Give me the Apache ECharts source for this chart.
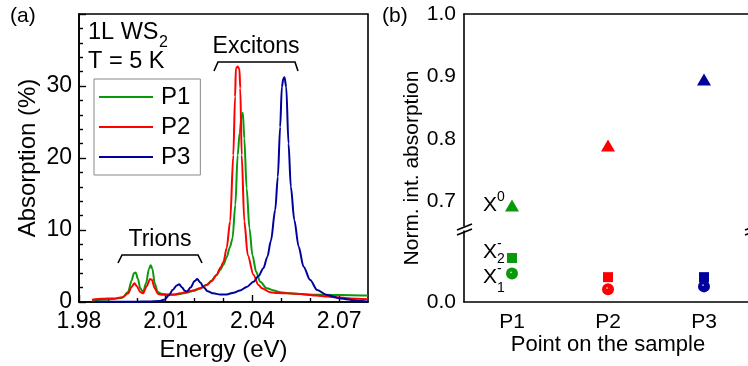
<!DOCTYPE html>
<html>
<head>
<meta charset="utf-8">
<script src="https://cdn.jsdelivr.net/npm/echarts@6/dist/echarts.min.js"></script>
<style>
    html, body { margin: 0; padding: 0; background: #fff; }
    #chart { width: 748px; height: 366px; }
</style>
</head>
<body>
<div id="chart"></div>
<script>
    const FONT = '"Liberation Sans", Arial, sans-serif';
    const GREEN = '#0a990a', RED = '#ff0000', BLUE = '#00009c';

    // spectra, [energy (eV), absorption (%)]
    const p1Spectrum = [[1.9845,0.2],[1.988,0.3],[1.992,0.4],[1.995,0.6],[1.997,1.4],[1.9982,3.0],[1.999,4.0],[1.9996,4.1],[2.0004,3.2],[2.0012,1.9],[2.0022,1.4],[2.0032,2.6],[2.0042,4.6],[2.0048,5.1],[2.0054,4.6],[2.0062,2.6],[2.0072,1.4],[2.0085,1.15],[2.011,1.0],[2.0126,1.0],[2.015,1.1],[2.0172,1.3],[2.0195,1.55],[2.0218,1.85],[2.0242,2.4],[2.0259,3.0],[2.0275,3.7],[2.0288,4.4],[2.03,5.2],[2.0311,6.2],[2.0322,7.6],[2.0331,8.8],[2.0341,13.5],[2.0349,20.4],[2.0356,23.5],[2.0362,25.6],[2.0367,26.3],[2.0372,22.7],[2.038,15.8],[2.039,10.2],[2.04,6.5],[2.0413,4.2],[2.0427,2.8],[2.045,1.9],[2.0475,1.6],[2.0496,1.35],[2.053,1.2],[2.057,1.1],[2.062,1.0],[2.068,0.98],[2.074,0.95],[2.08,0.9]];
    const p2Spectrum = [[1.9845,0.3],[1.988,0.45],[1.992,0.5],[1.995,0.65],[1.997,1.2],[1.9982,2.1],[1.9992,2.6],[2.0,2.2],[2.0012,1.4],[2.0022,1.2],[2.0034,2.2],[2.0046,3.2],[2.0052,3.1],[2.0062,1.9],[2.0074,1.1],[2.009,1.0],[2.0126,1.05],[2.015,1.2],[2.0172,1.4],[2.0195,1.6],[2.0218,1.9],[2.0242,2.36],[2.0259,2.9],[2.0276,3.75],[2.029,4.8],[2.03,5.6],[2.0311,7.5],[2.0323,11.2],[2.0334,20.4],[2.034,28.5],[2.0343,32.5],[2.0349,32.7],[2.0355,32.4],[2.0358,29.7],[2.0363,20.4],[2.0372,11.2],[2.0384,6.5],[2.0404,3.75],[2.0421,2.36],[2.0433,1.9],[2.0461,1.35],[2.049,1.25],[2.052,1.2],[2.055,1.15],[2.058,1.05],[2.062,0.9],[2.066,0.75],[2.069,0.65],[2.074,0.5],[2.08,0.38]];
    const p3Spectrum = [[1.9855,0.05],[1.99,0.05],[1.995,0.05],[2.0,0.05],[2.004,0.08],[2.008,0.15],[2.0097,0.35],[2.011,0.9],[2.0125,1.7],[2.0138,2.3],[2.0147,2.45],[2.0157,2.0],[2.0166,1.55],[2.0174,1.45],[2.0186,2.0],[2.02,2.9],[2.0209,3.2],[2.022,2.7],[2.0232,2.0],[2.0245,1.5],[2.0265,1.2],[2.0288,1.05],[2.0311,1.05],[2.0335,1.3],[2.0357,1.6],[2.038,2.1],[2.0404,2.8],[2.0421,3.6],[2.0438,4.7],[2.0452,6.3],[2.0464,8.5],[2.0479,12.8],[2.0488,17.4],[2.0496,24.3],[2.0502,29.9],[2.0507,31.0],[2.0511,31.2],[2.0517,29.9],[2.0525,22],[2.0533,16],[2.0545,11.4],[2.056,7.7],[2.0577,4.9],[2.06,3.06],[2.0624,1.67],[2.0658,0.97],[2.0705,0.5],[2.0763,0.18],[2.08,0.05]];

    const energyTicks = [1.98, 2.01, 2.04, 2.07];
    const energyMinorTicks = [1.99, 2.00, 2.02, 2.03, 2.05, 2.06];

    // panel (b)
    const points = ['P1', 'P2', 'P3'];
    const pointColors = [GREEN, RED, BLUE];
    const x0Values = [0.693, 0.789, 0.895];
    const x2Values = [0.062, 0.035, 0.035];
    const x1Values = [0.040, 0.018, 0.022];
    const upperTicks = [0.7, 0.8, 0.9, 1.0];
    const upperMinorTicks = [0.75, 0.85, 0.95];

    const lineStyle = { color: '#000', width: 1.6 };
    const tickStyle = { color: '#000', width: 1.4 };
    const noSplit = { show: false };

    function ball(c) {
        return {
            type: 'radial', x: 0.42, y: 0.4, r: 0.6,
            colorStops: [{ offset: 0, color: '#ffffff' }, { offset: 0.18, color: c }, { offset: 1, color: c }]
        };
    }

    function txt(x, y, text, size, align) {
        return {
            type: 'text', x: x, y: y, silent: true,
            style: { text: text, fontSize: size, fontFamily: FONT, fill: '#000', align: align || 'left', verticalAlign: 'middle' }
        };
    }

    function seg(x1, y1, x2, y2) {
        return { type: 'line', silent: true, shape: { x1, y1, x2, y2 }, style: { stroke: '#000', lineWidth: 1.6 } };
    }

    const chart = echarts.init(document.getElementById('chart'));

    const option = {
        animation: false,
        backgroundColor: '#fff',
        textStyle: { fontFamily: FONT, color: '#000' },
        grid: [
            { left: 79, top: 14, width: 289, height: 288, show: true, borderColor: '#000', borderWidth: 1.6, outerBoundsMode: 'none' },
            { left: 464, top: 14, width: 288, height: 212, outerBoundsMode: 'none' },
            { left: 464, top: 231, width: 288, height: 71, outerBoundsMode: 'none' }
        ],
        legend: {
            data: ['P1', 'P2', 'P3'],
            orient: 'vertical',
            left: 94, top: 79,
            padding: [6, 10, 6, 4],
            itemGap: 6, itemWidth: 54, itemHeight: 18,
            itemStyle: { opacity: 0 },
            borderColor: '#888', borderWidth: 1,
            textStyle: { fontSize: 24, fontFamily: FONT, color: '#000', padding: [0, 0, 0, 3] }
        },
        xAxis: [
            {
                gridIndex: 0, type: 'value', min: 1.98, max: 2.08, position: 'bottom',
                name: 'Energy (eV)', nameLocation: 'middle', nameGap: 32,
                nameTextStyle: { fontSize: 24, fontFamily: FONT, color: '#000' },
                axisLine: { show: true, onZero: false, lineStyle },
                axisTick: { inside: true, length: 7, lineStyle: tickStyle, customValues: energyTicks },
                axisLabel: { customValues: energyTicks, formatter: v => v.toFixed(2), fontSize: 23, color: '#000', fontFamily: FONT, margin: 8 },
                splitLine: noSplit
            },
            {
                gridIndex: 0, type: 'value', min: 1.98, max: 2.08, position: 'bottom',
                axisLine: { show: false },
                axisTick: { inside: true, length: 4, lineStyle: tickStyle, customValues: energyMinorTicks },
                axisLabel: { show: false },
                splitLine: noSplit
            },
            { gridIndex: 1, type: 'category', data: points, show: false },
            {
                gridIndex: 1, type: 'category', data: points, position: 'top',
                axisLine: { show: true, onZero: false, lineStyle },
                axisTick: { show: false }, axisLabel: { show: false }
            },
            {
                gridIndex: 2, type: 'category', data: points, position: 'bottom',
                name: 'Point on the sample', nameLocation: 'middle', nameGap: 31,
                nameTextStyle: { fontSize: 22, fontFamily: FONT, color: '#000' },
                axisLine: { show: true, onZero: false, lineStyle },
                axisTick: { inside: true, alignWithLabel: true, length: 7, lineStyle: tickStyle },
                axisLabel: { fontSize: 21, color: '#000', fontFamily: FONT, margin: 10 }
            }
        ],
        yAxis: [
            {
                gridIndex: 0, type: 'value', min: 0, max: 40, interval: 10,
                name: 'Absorption (%)', nameLocation: 'middle', nameGap: 39,
                nameTextStyle: { fontSize: 24, fontFamily: FONT, color: '#000' },
                axisLine: { show: true, lineStyle },
                axisTick: { inside: true, length: 7, lineStyle: tickStyle },
                minorTick: { show: true, splitNumber: 5, length: 4, lineStyle: tickStyle },
                axisLabel: { fontSize: 23, color: '#000', fontFamily: FONT, margin: 7, showMaxLabel: false },
                splitLine: noSplit
            },
            {
                gridIndex: 1, type: 'value', min: 0.66, max: 1.0, position: 'left',
                axisLine: { show: true, lineStyle },
                axisTick: { inside: true, length: 7, lineStyle: tickStyle, customValues: upperTicks },
                axisLabel: { customValues: upperTicks, formatter: v => v.toFixed(1), fontSize: 21, color: '#000', fontFamily: FONT, margin: 8 },
                splitLine: noSplit
            },
            {
                gridIndex: 1, type: 'value', min: 0.66, max: 1.0, position: 'left',
                axisLine: { show: false },
                axisTick: { inside: true, length: 4, lineStyle: tickStyle, customValues: upperMinorTicks },
                axisLabel: { show: false },
                splitLine: noSplit
            },
            {
                gridIndex: 1, type: 'value', min: 0.66, max: 1.0, position: 'right',
                axisLine: { show: true, lineStyle }, axisTick: { show: false }, axisLabel: { show: false }, splitLine: noSplit
            },
            {
                gridIndex: 2, type: 'value', min: 0, max: 0.1, position: 'left',
                axisLine: { show: true, lineStyle },
                axisTick: { inside: true, length: 4, lineStyle: tickStyle, customValues: [0.05] },
                axisLabel: { customValues: [0], formatter: v => v.toFixed(1), fontSize: 21, color: '#000', fontFamily: FONT, margin: 8 },
                splitLine: noSplit
            },
            {
                gridIndex: 2, type: 'value', min: 0, max: 0.1, position: 'right',
                axisLine: { show: true, lineStyle }, axisTick: { show: false }, axisLabel: { show: false }, splitLine: noSplit
            }
        ],
        series: [
            { name: 'P1', type: 'line', xAxisIndex: 0, yAxisIndex: 0, data: p1Spectrum, symbol: 'none', smooth: 0.3, smoothMonotone: 'x', lineStyle: { color: GREEN, width: 2 }, itemStyle: { color: GREEN }, z: 3 },
            { name: 'P2', type: 'line', xAxisIndex: 0, yAxisIndex: 0, data: p2Spectrum, symbol: 'none', smooth: 0.3, smoothMonotone: 'x', lineStyle: { color: RED, width: 2 }, itemStyle: { color: RED }, z: 4 },
            { name: 'P3', type: 'line', xAxisIndex: 0, yAxisIndex: 0, data: p3Spectrum, symbol: 'none', smooth: 0.3, smoothMonotone: 'x', lineStyle: { color: BLUE, width: 2 }, itemStyle: { color: BLUE }, z: 5 },
            {
                name: 'X0', type: 'scatter', xAxisIndex: 2, yAxisIndex: 1, symbol: 'triangle', symbolSize: [14, 12],
                data: x0Values.map((v, i) => ({ value: v, itemStyle: { color: pointColors[i], opacity: 1 } }))
            },
            {
                name: 'X2', type: 'scatter', xAxisIndex: 4, yAxisIndex: 4, symbol: 'rect', symbolSize: 10,
                data: x2Values.map((v, i) => ({ value: v, itemStyle: { color: pointColors[i], opacity: 1 } }))
            },
            {
                name: 'X1', type: 'scatter', xAxisIndex: 4, yAxisIndex: 4, symbol: 'circle', symbolSize: 12,
                data: x1Values.map((v, i) => ({ value: v, itemStyle: { color: ball(pointColors[i]), opacity: 1 } }))
            }
        ],
        graphic: [
            txt(10, 16, '(a)', 21),
            txt(382, 16, '(b)', 21),
            txt(88, 33, '1L WS', 23.5),
            txt(159, 43, '2', 16),
            txt(88, 62, 'T = 5 K', 23.5),
            txt(256, 47, 'Excitons', 23, 'center'),
            txt(160, 240, 'Trions', 23, 'center'),
            { type: 'polyline', silent: true, shape: { points: [[214, 71], [218, 62], [295, 62], [298, 71]] }, style: { stroke: '#000', lineWidth: 1.6, fill: null } },
            { type: 'polyline', silent: true, shape: { points: [[118, 263], [122, 255], [198, 255], [202, 263]] }, style: { stroke: '#000', lineWidth: 1.6, fill: null } },
            txt(483, 205, 'X', 21), txt(497, 197, '0', 14),
            txt(483, 252, 'X', 21), txt(497, 244, '-', 14), txt(497, 259, '2', 14),
            txt(483, 277, 'X', 21), txt(497, 269, '-', 14), txt(497, 288, '1', 14),
            {
                type: 'text', x: 412, y: 168, rotation: Math.PI / 2, silent: true,
                style: { text: 'Norm. int. absorption', fontSize: 21, fontFamily: FONT, fill: '#000', align: 'center', verticalAlign: 'middle' }
            },
            // axis break marks
            seg(457, 230, 472, 224), seg(457, 235, 472, 229),
            seg(745, 230, 760, 224), seg(745, 235, 760, 229)
        ]
    };

    chart.setOption(option);
    window.addEventListener('resize', () => chart.resize());
</script>
</body>
</html>
